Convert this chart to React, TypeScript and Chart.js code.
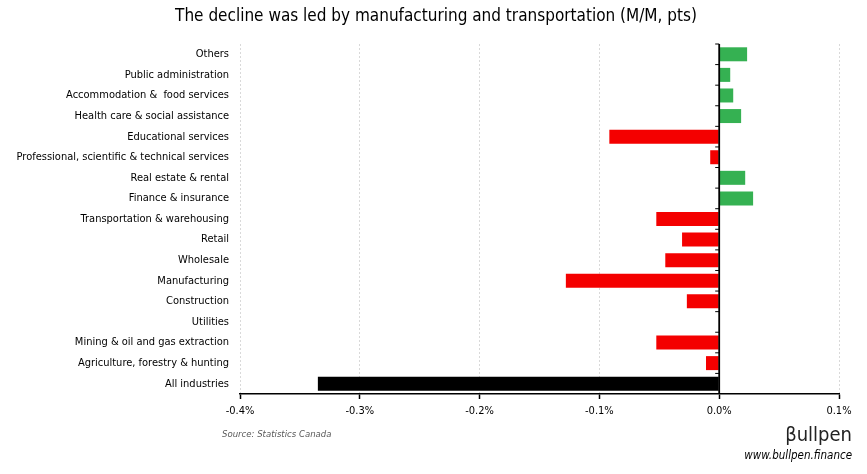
import React, { useEffect, useRef } from "react";
import { Chart, registerables } from "chart.js";

Chart.register(...registerables);

const categories = [
  "Others",
  "Public administration",
  "Accommodation &  food services",
  "Health care & social assistance",
  "Educational services",
  "Professional, scientific & technical services",
  "Real estate & rental",
  "Finance & insurance",
  "Transportation & warehousing",
  "Retail",
  "Wholesale",
  "Manufacturing",
  "Construction",
  "Utilities",
  "Mining & oil and gas extraction",
  "Agriculture, forestry & hunting",
  "All industries",
];

const changes = [
  0.0233, 0.0092, 0.0117, 0.0183, -0.0917, -0.0075, 0.0217, 0.0283, -0.0525,
  -0.031, -0.045, -0.128, -0.027, 0, -0.0525, -0.011, -0.335,
];

const xTicks = [-0.4, -0.3, -0.2, -0.1, 0.0, 0.1];

const title = "The decline was led by manufacturing and transportation (M/M, pts)";
const source = "Source: Statistics Canada";
const brand = "βullpen";
const site = "www.bullpen.finance";

const FONT = "'DejaVu Sans Condensed', 'Roboto', sans-serif";
const GREEN = "#35B152";
const RED = "#F40000";
const BLACK = "#000000";

export default function App() {
  const ref = useRef<HTMLCanvasElement | null>(null);

  useEffect(() => {
    document.body.style.margin = "0";
    const canvas = ref.current;
    if (!canvas) return;

    const colors = changes.map((v, i) =>
      i === changes.length - 1 ? BLACK : v >= 0 ? GREEN : RED
    );

    const decor = {
      id: "decor",
      afterDatasetsDraw(chart: any) {
        const { ctx, scales } = chart;
        const x = scales.x;
        const y = scales.y;
        const x0 = x.getPixelForValue(0);
        ctx.save();
        ctx.strokeStyle = BLACK;
        ctx.lineWidth = 1.8;
        ctx.beginPath();
        ctx.moveTo(x0, chart.chartArea.top);
        ctx.lineTo(x0, chart.chartArea.bottom);
        ctx.stroke();
        ctx.lineWidth = 1;
        const step = y.getPixelForValue(1) - y.getPixelForValue(0);
        for (let i = 0; i < categories.length; i++) {
          const yy = y.getPixelForValue(i) - step / 2;
          ctx.beginPath();
          ctx.moveTo(x0 - 4, yy);
          ctx.lineTo(x0, yy);
          ctx.stroke();
        }
        ctx.restore();
      },
      afterDraw(chart: any) {
        const { ctx } = chart;
        ctx.save();
        ctx.fillStyle = "#000";
        ctx.textAlign = "center";
        ctx.textBaseline = "middle";
        ctx.font = `17px ${FONT}`;
        ctx.fillText(title, 436, 17);

        ctx.textAlign = "left";
        ctx.fillStyle = "#595959";
        ctx.font = `italic 9.5px ${FONT}`;
        ctx.fillText(source, 222, 435);

        ctx.textAlign = "right";
        ctx.fillStyle = "#222";
        ctx.font = `20px ${FONT}`;
        ctx.fillText(brand, 852, 436);

        ctx.fillStyle = "#000";
        ctx.font = `italic 11.5px ${FONT}`;
        ctx.fillText(site, 852, 456);
        ctx.restore();
      },
    };

    const chart = new Chart(canvas, {
      type: "bar",
      data: {
        labels: categories,
        datasets: [
          {
            data: changes,
            backgroundColor: colors,
            borderWidth: 0,
            barPercentage: 0.68,
            categoryPercentage: 1,
          },
        ],
      },
      options: {
        indexAxis: "y",
        animation: false,
        responsive: false,
        layout: { padding: { top: 44, right: 28, left: 0, bottom: 0 } },
        plugins: {
          legend: { display: false },
          title: { display: false },
          tooltip: { enabled: false },
        },
        scales: {
          x: {
            min: -0.4,
            max: 0.1,
            afterBuildTicks(scale: any) {
              scale.ticks = xTicks.map((v) => ({ value: v }));
            },
            afterFit(scale: any) {
              scale.height = 80;
            },
            ticks: {
              color: "#000",
              font: { family: FONT, size: 11 },
              padding: 6,
              callback: (v: any) => Number(v).toFixed(1) + "%",
            },
            grid: {
              color: (c: any) => (c.tick && c.tick.value === 0 ? "rgba(0,0,0,0)" : "#d9d9d9"),
              lineWidth: 1,
              tickColor: "#000",
              tickLength: 5,
              tickWidth: 1.5,
            },
            border: { display: true, color: "#000", width: 1.5, dash: [2, 2] },
          },
          y: {
            afterFit(scale: any) {
              scale.width = 240;
            },
            ticks: {
              color: "#000",
              font: { family: FONT, size: 11 },
              padding: 11,
            },
            grid: { display: false, drawTicks: false },
            border: { display: false },
          },
        },
      },
      plugins: [decor],
    });

    return () => chart.destroy();
  }, []);

  return (
    <div style={{ width: 867, height: 474 }}>
      <canvas ref={ref} width={867} height={474} style={{ display: "block" }} />
    </div>
  );
}
